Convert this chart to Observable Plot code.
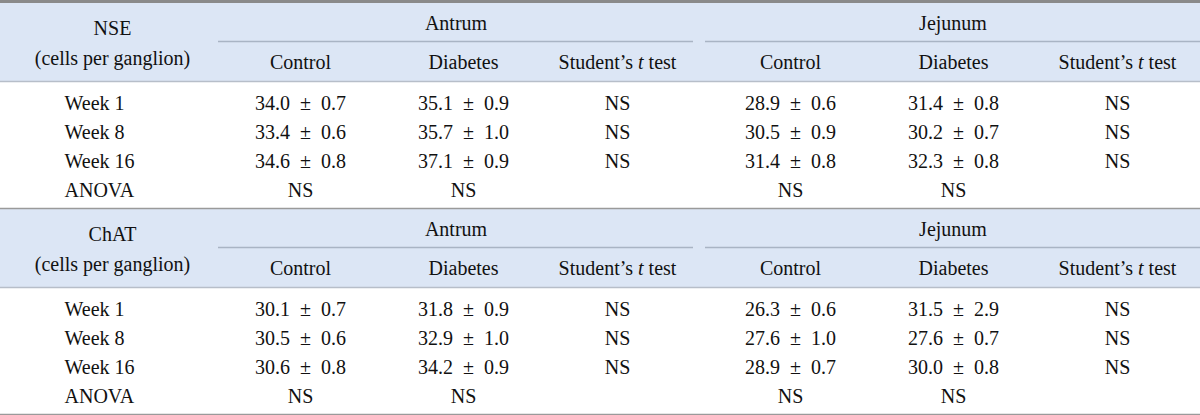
<!DOCTYPE html>
<html>
<head>
<meta charset="utf-8">
<script src="https://cdn.jsdelivr.net/npm/d3@7"></script>
<script src="https://cdn.jsdelivr.net/npm/@observablehq/plot@0.6"></script>
<style>
  html, body { margin: 0; padding: 0; background: #fff; }
  #chart svg { display: block; }
</style>
</head>
<body>
<div id="chart"></div>
<script>
// ---------- data ----------
const blocks = ["NSE", "ChAT"];
const unitLabel = "(cells per ganglion)";
const regions = ["Antrum", "Jejunum"];
const groups = ["Control", "Diabetes"];
const testLabel = "Student\u2019s t test";
const weeks = ["Week 1", "Week 8", "Week 16"];
const anovaLabel = "ANOVA";
const nsLabel = "NS";

// NSE
const nseAntrumControlMean = [34.0, 33.4, 34.6];
const nseAntrumControlSem  = [0.7, 0.6, 0.8];
const nseAntrumDiabetesMean = [35.1, 35.7, 37.1];
const nseAntrumDiabetesSem  = [0.9, 1.0, 0.9];
const nseJejunumControlMean = [28.9, 30.5, 31.4];
const nseJejunumControlSem  = [0.6, 0.9, 0.8];
const nseJejunumDiabetesMean = [31.4, 30.2, 32.3];
const nseJejunumDiabetesSem  = [0.8, 0.7, 0.8];
const nseTTest = [["NS", "NS", "NS"], ["NS", "NS", "NS"]];
const nseAnova = [["NS", "NS"], ["NS", "NS"]];

// ChAT
const chatAntrumControlMean = [30.1, 30.5, 30.6];
const chatAntrumControlSem  = [0.7, 0.6, 0.8];
const chatAntrumDiabetesMean = [31.8, 32.9, 34.2];
const chatAntrumDiabetesSem  = [0.9, 1.0, 0.9];
const chatJejunumControlMean = [26.3, 27.6, 28.9];
const chatJejunumControlSem  = [0.6, 1.0, 0.7];
const chatJejunumDiabetesMean = [31.5, 27.6, 30.0];
const chatJejunumDiabetesSem  = [2.9, 0.7, 0.8];
const chatTTest = [["NS", "NS", "NS"], ["NS", "NS", "NS"]];
const chatAnova = [["NS", "NS"], ["NS", "NS"]];

const means = [
  [[nseAntrumControlMean, nseAntrumDiabetesMean], [nseJejunumControlMean, nseJejunumDiabetesMean]],
  [[chatAntrumControlMean, chatAntrumDiabetesMean], [chatJejunumControlMean, chatJejunumDiabetesMean]]
];
const sems = [
  [[nseAntrumControlSem, nseAntrumDiabetesSem], [nseJejunumControlSem, nseJejunumDiabetesSem]],
  [[chatAntrumControlSem, chatAntrumDiabetesSem], [chatJejunumControlSem, chatJejunumDiabetesSem]]
];
const tTests = [nseTTest, chatTTest];
const anovas = [nseAnova, chatAnova];

// ---------- layout ----------
const W = 1200, H = 415;
const FS = 20;
const labelColW = 218;
const colCenters = [[300, 463, 617], [790, 953, 1117]];
const spanX = [[218, 693], [705, 1200]];
const blockTop = (b) => 2 + b * 206;
const headerH = 79;
const rowY = (b, i) => blockTop(b) + headerH + 22 + 29 * i;
const labelX = 64;
const labelCenterX = 112;
const pm = "\u2002\u00b1\u2002";

// build table records
const headerBands = blocks.map((name, b) => ({y1: blockTop(b), y2: blockTop(b) + headerH}));
const headerTexts = [];
const cellTexts = [];
const rowLabels = [];
const spanners = [];
blocks.forEach((name, b) => {
  const t = blockTop(b);
  headerTexts.push({x: labelCenterX, y: t + 26, text: name});
  headerTexts.push({x: labelCenterX, y: t + 56, text: unitLabel});
  regions.forEach((reg, r) => {
    const [x1, x2] = spanX[r];
    headerTexts.push({x: (x1 + x2) / 2, y: t + 21, text: reg});
    spanners.push({x1, x2, y: t + 39});
    groups.forEach((g, gi) => headerTexts.push({x: colCenters[r][gi], y: t + 60, text: g}));
    headerTexts.push({x: colCenters[r][2], y: t + 60, text: testLabel});
    weeks.forEach((w, i) => {
      groups.forEach((g, gi) => {
        cellTexts.push({x: colCenters[r][gi], y: rowY(b, i),
          text: `${means[b][r][gi][i].toFixed(1)}${pm}${sems[b][r][gi][i].toFixed(1)}`});
      });
      cellTexts.push({x: colCenters[r][2], y: rowY(b, i), text: tTests[b][r][i]});
    });
    groups.forEach((g, gi) => cellTexts.push({x: colCenters[r][gi], y: rowY(b, 3), text: anovas[b][r][gi]}));
  });
  weeks.forEach((w, i) => rowLabels.push({x: labelX, y: rowY(b, i), text: w}));
  rowLabels.push({x: labelX, y: rowY(b, 3), text: anovaLabel});
});
const headerBottoms = blocks.map((n, b) => ({y: blockTop(b) + headerH}));
const blockEnds = blocks.map((n, b) => ({y: blockTop(b) + 206}));

const chart = Plot.plot({
  width: W,
  height: H,
  margin: 0,
  x: {domain: [0, W], range: [0, W], axis: null},
  y: {domain: [0, H], range: [0, H], axis: null},
  style: {fontFamily: "'Liberation Serif', 'Times New Roman', serif", fontSize: FS + "px", background: "#fff", color: "#111"},
  marks: [
    Plot.rect(headerBands, {x1: 0, x2: W, y1: "y1", y2: "y2", fill: "#dce6f5"}),
    Plot.ruleY(spanners, {x1: "x1", x2: "x2", y: "y", stroke: "#a9b4c4", strokeWidth: 1.5}),
    Plot.ruleY(headerBottoms, {x1: 0, x2: W, y: "y", stroke: "#b7bec9", strokeWidth: 1.5}),
    Plot.ruleY(blockEnds, {x1: 0, x2: W, y: "y", stroke: "#9a9a9a", strokeWidth: 1.5}),
    Plot.ruleY([1], {x1: 0, x2: W, y: d => d, stroke: "#8a8a8a", strokeWidth: 3}),
    Plot.text(headerTexts, {x: "x", y: "y", text: "text", fill: "#111", fontSize: FS}),
    Plot.text(cellTexts, {x: "x", y: "y", text: "text", fill: "#111", fontSize: FS}),
    Plot.text(rowLabels, {x: "x", y: "y", text: "text", textAnchor: "start", fill: "#111", fontSize: FS})
  ]
});

// italic "t" in "Student's t test"
d3.select(chart).selectAll("text").each(function() {
  if (this.textContent === testLabel) {
    const el = d3.select(this);
    el.text(null);
    el.append("tspan").text("Student\u2019s ");
    el.append("tspan").attr("font-style", "italic").text("t");
    el.append("tspan").text(" test");
  }
});

document.getElementById("chart").appendChild(chart);
</script>
</body>
</html>
